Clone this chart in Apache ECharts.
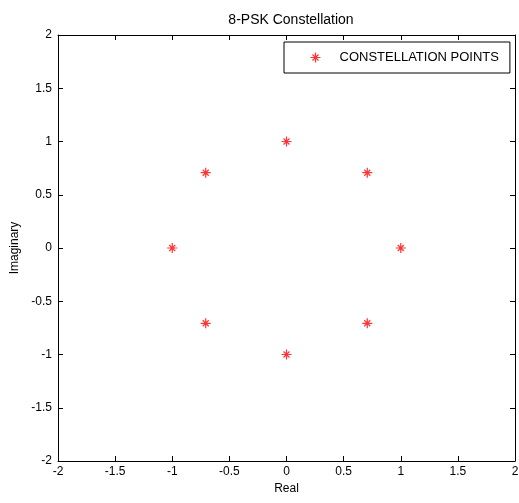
<!DOCTYPE html>
<html><head><meta charset="utf-8">
<script src="https://cdn.jsdelivr.net/npm/echarts@6/dist/echarts.min.js"></script>
<style>html,body{margin:0;padding:0;background:#fff}#c{width:519px;height:503px}</style>
</head><body><div id="c"></div>
<script>
const realVals = [1, 0.707, 0, -0.707, -1, -0.707, 0, 0.707];
const imagVals = [0, 0.707, 1, 0.707, 0, -0.707, -1, -0.707];
const seriesName = 'CONSTELLATION POINTS';
const titleText = '8-PSK Constellation';
const xName = 'Real', yName = 'Imaginary';

const star = 'path://M0,-10L0,10M-10,0L10,0M-6,-6L6,6M-6,6L6,-6';
const font = 'Liberation Sans';
const points = realVals.map((x, i) => [x, imagVals[i]]);
const chart = echarts.init(document.getElementById('c'), null, {renderer: 'canvas'});
const axisCommon = {
  type: 'value', min: -2, max: 2, interval: 0.5,
  axisLine: {show: true, onZero: false, lineStyle: {color: '#000', width: 1}},
  axisTick: {show: true, inside: true, length: 5, lineStyle: {color: '#000'}},
  splitLine: {show: false},
  axisLabel: {color: '#000', fontFamily: font, fontSize: 12}
};
chart.setOption({
  animation: false,
  backgroundColor: '#fff',
  title: {text: titleText, left: 286, textAlign: 'center', top: 8,
    textStyle: {fontFamily: font, fontSize: 14, fontWeight: 'normal', color: '#000'}},
  grid: {left: 58, top: 35, width: 457, height: 426, containLabel: false, outerBoundsMode: 'none'},
  legend: {
    data: [{name: seriesName, icon: star}],
    left: 284, top: 42, orient: 'vertical',
    itemWidth: 10, itemHeight: 10, itemGap: 0,
    padding: [8, 11, 8, 24],
    borderColor: '#000', borderWidth: 1, backgroundColor: '#fff',
    textStyle: {fontFamily: font, fontSize: 13, color: '#000', padding: [0, 0, 0, 14]},
    itemStyle: {color: 'none', borderColor: '#ff0000', borderWidth: 1.2}
  },
  xAxis: [
    Object.assign({}, axisCommon, {position: 'bottom', name: xName, nameLocation: 'middle', nameGap: 22,
      nameTextStyle: {fontFamily: font, fontSize: 12, color: '#000'},
      axisLabel: Object.assign({}, axisCommon.axisLabel, {margin: 5})}),
    Object.assign({}, axisCommon, {position: 'top', axisLabel: {show: false}})
  ],
  yAxis: [
    Object.assign({}, axisCommon, {position: 'left', name: yName, nameLocation: 'middle', nameGap: 30,
      nameTextStyle: {fontFamily: font, fontSize: 12, color: '#000'},
      axisLabel: Object.assign({}, axisCommon.axisLabel, {margin: 6})}),
    Object.assign({}, axisCommon, {position: 'right', axisLabel: {show: false}})
  ],
  series: [{
    name: seriesName, type: 'scatter', xAxisIndex: 0, yAxisIndex: 0,
    data: points, symbol: star, symbolSize: 10,
    itemStyle: {color: 'none', borderColor: '#ff0000', borderWidth: 1.2}
  }]
});
</script></body></html>
